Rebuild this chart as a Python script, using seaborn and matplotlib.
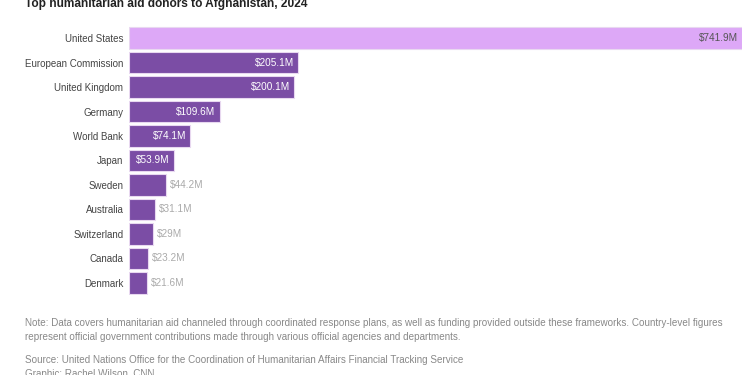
import matplotlib
matplotlib.use("Agg")
import matplotlib.pyplot as plt
import seaborn as sns
import pandas as pd

donors = ["United States", "European Commission", "United Kingdom", "Germany", "World Bank",
          "Japan", "Sweden", "Australia", "Switzerland", "Canada", "Denmark"]
amounts = [741.9, 205.1, 200.1, 109.6, 74.1, 53.9, 44.2, 31.1, 29.0, 23.2, 21.6]
labels = ["$741.9M", "$205.1M", "$200.1M", "$109.6M", "$74.1M", "$53.9M",
          "$44.2M", "$31.1M", "$29M", "$23.2M", "$21.6M"]

sns.set_theme(style="white")
plt.rcParams["font.family"] = ["Liberation Sans", "DejaVu Sans"]

df = pd.DataFrame({"donor": donors, "amount": amounts})
palette = ["#DDA8F7"] + ["#7B4DA5"] * (len(donors) - 1)

fig = plt.figure(figsize=(7.5, 3.75), dpi=100)
ax = fig.add_axes([0.172, 0.213, 0.817, 0.718])
sns.barplot(data=df, x="amount", y="donor", hue="donor", palette=palette, legend=False,
            width=0.87, edgecolor="#E8D8F0", linewidth=0.8, ax=ax, saturation=1)
ax.set_xlim(0, 741.9)
ax.set_ylim(10.5, -0.5)
ax.set_xlabel("")
ax.set_ylabel("")
ax.set_xticks([])
for s in ax.spines.values():
    s.set_visible(False)
ax.tick_params(axis="y", length=0, pad=4, labelsize=7.0, labelcolor="#444444")

for i, (v, lab) in enumerate(zip(amounts, labels)):
    if i == 0:
        ax.text(v - 5, i, lab, ha="right", va="center", fontsize=7.2, color="#555555")
    elif v >= 50:
        ax.text(v - 5, i, lab, ha="right", va="center", fontsize=7.2, color="white")
    else:
        ax.text(v + 5, i, lab, ha="left", va="center", fontsize=7.2, color="#AAAAAA")

fig.text(0.033, 0.988, "Top humanitarian aid donors to Afghanistan, 2024", fontsize=8.6,
         fontweight="bold", color="#222222", ha="left", va="center")
note_fs = 7.1
fig.text(0.033, 0.138, "Note: Data covers humanitarian aid channeled through coordinated response plans, as well as funding provided outside these frameworks. Country-level figures",
         fontsize=note_fs, color="#888888", ha="left", va="center")
fig.text(0.033, 0.1, "represent official government contributions made through various official agencies and departments.",
         fontsize=note_fs, color="#888888", ha="left", va="center")
fig.text(0.033, 0.04, "Source: United Nations Office for the Coordination of Humanitarian Affairs Financial Tracking Service",
         fontsize=note_fs, color="#888888", ha="left", va="center")
fig.text(0.033, 0.003, "Graphic: Rachel Wilson, CNN",
         fontsize=note_fs, color="#888888", ha="left", va="center")

fig.savefig("out.png", dpi=100)
